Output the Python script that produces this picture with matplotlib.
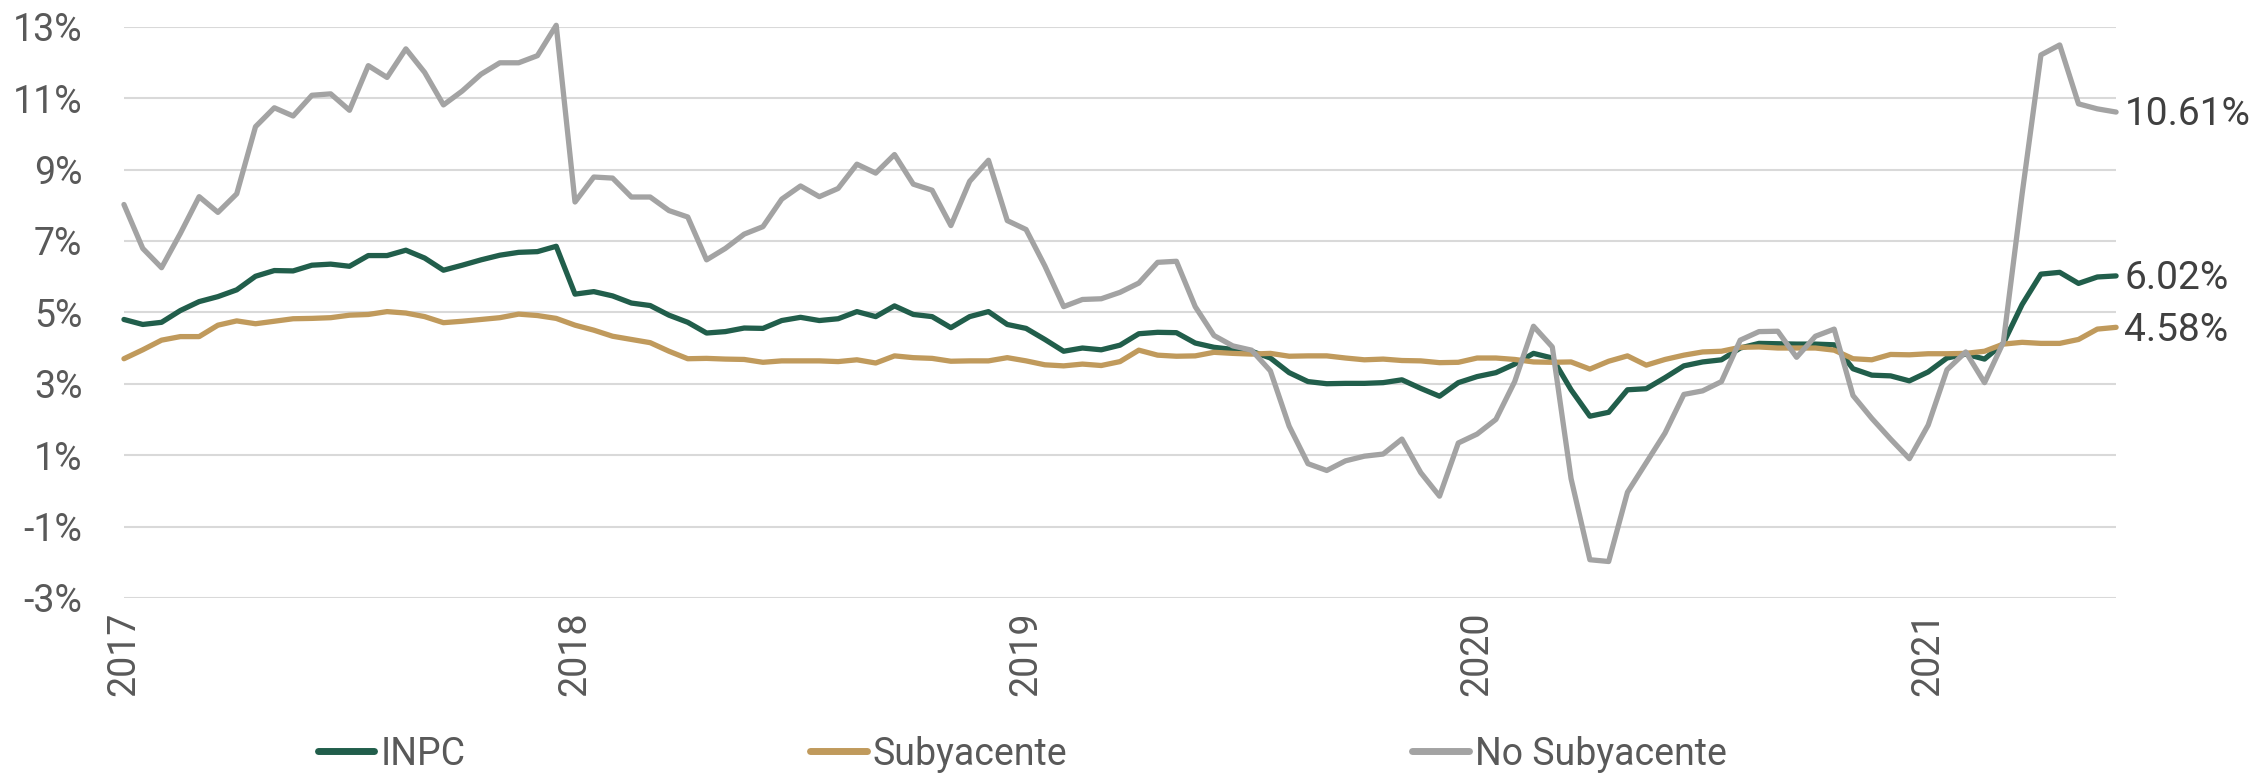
import numpy as np
import matplotlib
matplotlib.use('Agg')
import matplotlib.pyplot as plt
from matplotlib.ticker import FuncFormatter

# Inflación anual quincenal (%), 1a quincena ene-2017 a 1a quincena jun-2021
INPC = [
    4.80, 4.66, 4.72, 5.05, 5.30, 5.44, 5.63, 6.01, 6.17, 6.16, 6.32, 6.35,
    6.29, 6.59, 6.59, 6.74, 6.52, 6.18, 6.32, 6.47, 6.60, 6.68, 6.70, 6.85,
    5.51, 5.58, 5.46, 5.26, 5.19, 4.92, 4.72, 4.42, 4.46, 4.56, 4.55, 4.77,
    4.86, 4.77, 4.82, 5.02, 4.88, 5.18, 4.94, 4.88, 4.57, 4.88, 5.02, 4.66,
    4.55, 4.24, 3.91, 4.00, 3.95, 4.08, 4.40, 4.44, 4.43, 4.14, 4.02, 3.96,
    3.91, 3.72, 3.31, 3.06, 3.00, 3.01, 3.01, 3.03, 3.11, 2.87, 2.65, 3.03,
    3.20, 3.31, 3.55, 3.85, 3.72, 2.83, 2.09, 2.20, 2.83, 2.86, 3.17, 3.50,
    3.61, 3.67, 4.00, 4.13, 4.12, 4.11, 4.11, 4.09, 3.42, 3.24, 3.22, 3.08,
    3.33, 3.72, 3.83, 3.69, 4.13, 5.22, 6.07, 6.12, 5.81, 5.99, 6.02,
]
SUBYACENTE = [
    3.70, 3.95, 4.22, 4.32, 4.32, 4.64, 4.76, 4.68, 4.75, 4.82, 4.83, 4.85,
    4.92, 4.94, 5.02, 4.98, 4.88, 4.71, 4.75, 4.80, 4.85, 4.95, 4.91, 4.83,
    4.64, 4.50, 4.33, 4.24, 4.15, 3.91, 3.70, 3.71, 3.69, 3.68, 3.60, 3.64,
    3.64, 3.64, 3.62, 3.67, 3.58, 3.78, 3.73, 3.71, 3.63, 3.64, 3.64, 3.73,
    3.64, 3.53, 3.50, 3.55, 3.51, 3.62, 3.94, 3.80, 3.77, 3.78, 3.88, 3.85,
    3.83, 3.85, 3.77, 3.78, 3.78, 3.72, 3.67, 3.69, 3.65, 3.64, 3.59, 3.60,
    3.72, 3.72, 3.68, 3.61, 3.60, 3.61, 3.41, 3.63, 3.78, 3.52, 3.68, 3.80,
    3.89, 3.91, 4.02, 4.03, 4.00, 4.00, 4.00, 3.94, 3.70, 3.67, 3.82, 3.81,
    3.84, 3.84, 3.85, 3.91, 4.11, 4.16, 4.13, 4.13, 4.24, 4.53, 4.58,
]
NO_SUBYACENTE = [
    8.02, 6.79, 6.25, 7.21, 8.24, 7.80, 8.32, 10.20, 10.73, 10.50, 11.08, 11.12,
    10.66, 11.91, 11.58, 12.38, 11.72, 10.81, 11.20, 11.67, 11.99, 11.99, 12.19, 13.04,
    8.09, 8.79, 8.76, 8.23, 8.23, 7.85, 7.67, 6.47, 6.79, 7.19, 7.40, 8.17,
    8.54, 8.24, 8.47, 9.15, 8.90, 9.42, 8.59, 8.42, 7.43, 8.67, 9.26, 7.57,
    7.32, 6.30, 5.16, 5.36, 5.38, 5.56, 5.82, 6.40, 6.43, 5.16, 4.35, 4.06,
    3.94, 3.36, 1.81, 0.76, 0.57, 0.84, 0.97, 1.03, 1.45, 0.51, -0.15, 1.34,
    1.59, 2.00, 3.06, 4.61, 4.03, 0.34, -1.93, -1.98, -0.04, 0.79, 1.62, 2.70,
    2.80, 3.06, 4.22, 4.46, 4.47, 3.74, 4.33, 4.53, 2.67, 2.03, 1.45, 0.90,
    1.84, 3.39, 3.89, 3.03, 4.16, 8.32, 12.21, 12.49, 10.84, 10.70, 10.61,
]
YEARS = ['2017', '2018', '2019', '2020', '2021']
QUINCENAS_POR_ANIO = 24

COLORS = {'INPC': '#215e4b', 'Subyacente': '#c09a5c', 'No Subyacente': '#a3a3a3'}
TEXT = '#595959'

plt.rcParams['font.family'] = ['Roboto', 'DejaVu Sans']

fig = plt.figure(figsize=(22.62, 7.75), dpi=100)
ax = fig.add_axes([0.0548, 0.2285, 0.8807, 0.7370])

x = np.arange(len(INPC))
series = [('INPC', INPC), ('Subyacente', SUBYACENTE), ('No Subyacente', NO_SUBYACENTE)]
for name, vals in series:
    ax.plot(x, vals, color=COLORS[name], lw=3.8, label=name, clip_on=False,
            solid_joinstyle='round', solid_capstyle='round', zorder=3)

for name, vals in [('No Subyacente', NO_SUBYACENTE), ('INPC', INPC), ('Subyacente', SUBYACENTE)]:
    ax.annotate(f'{vals[-1]:.2f}%', xy=(x[-1], vals[-1]), xytext=(6, -2),
                textcoords='offset points', va='center', ha='left',
                fontsize=28, color='#404040')

ax.set_xlim(0, len(INPC) - 1)
ax.set_ylim(-3, 13)
ax.set_yticks(np.arange(-3, 14, 2))
ax.yaxis.set_major_formatter(FuncFormatter(lambda v, _: f'{v:.0f}%'))
ax.set_xticks(np.arange(len(YEARS)) * QUINCENAS_POR_ANIO)
ax.set_xticklabels(YEARS, rotation=90)

ax.grid(axis='y', color='#d9d9d9', lw=1.5)
ax.set_axisbelow(True)
for s in ax.spines.values():
    s.set_visible(False)
ax.tick_params(axis='y', length=0, pad=30, labelsize=27, labelcolor=TEXT)
ax.tick_params(axis='x', length=0, pad=10, labelsize=27, labelcolor=TEXT)

leg = fig.legend(loc='center left', bbox_to_anchor=(0.1406, 0.027), ncol=3,
                 frameon=False, fontsize=27, handlelength=1.5, handletextpad=0.16,
                 columnspacing=9.2, borderaxespad=0, borderpad=0)
for t in leg.get_texts():
    t.set_color(TEXT)
for h in leg.legend_handles:
    h.set_linewidth(5)
    h.set_solid_capstyle('round')

fig.savefig('out.png', dpi=100)
